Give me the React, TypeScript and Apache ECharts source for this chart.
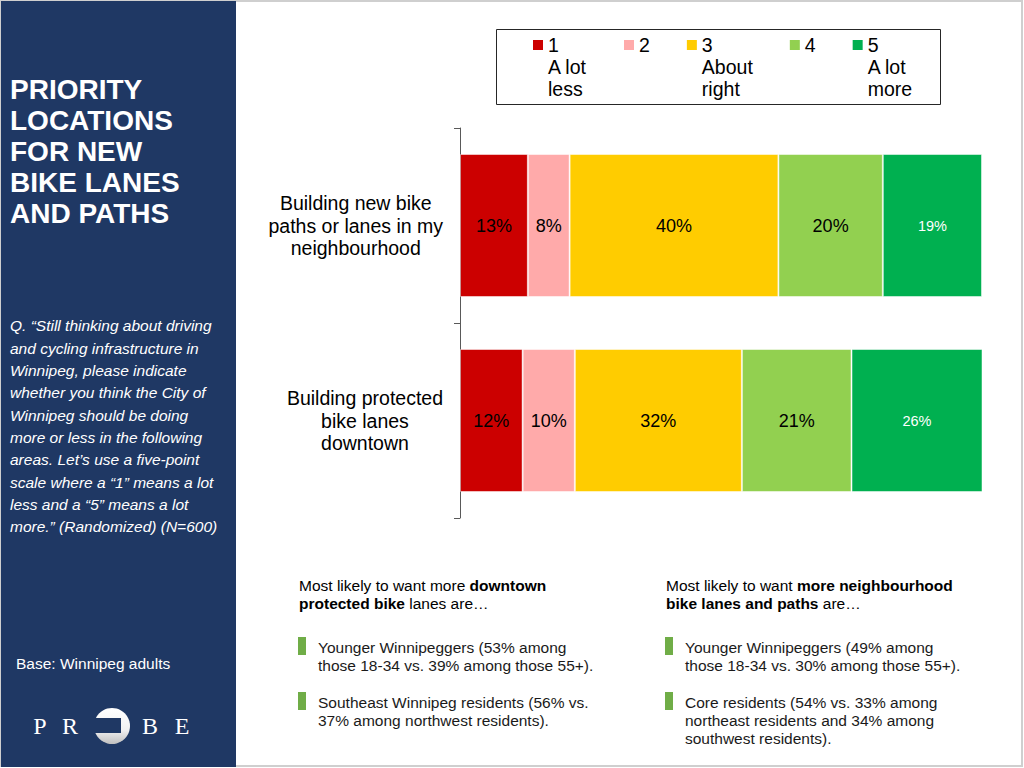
import React, { useEffect, useRef } from 'react';
import * as echarts from 'echarts';

const FONT = 'Liberation Sans, Arial, sans-serif';
const SERIF = 'Liberation Serif, Times New Roman, serif';
const NAVY = '#1F3864';

const categories = [
  'Building new bike\npaths or lanes in my\nneighbourhood',
  'Building protected\nbike lanes\ndowntown',
];
const seriesNames = ['1', '2', '3', '4', '5'];
const legendDescriptions = ['A lot\nless', '', 'About\nright', '', 'A lot\nmore'];
const seriesColors = ['#CC0000', '#FFAAAA', '#FFCC00', '#92D050', '#00B050'];

const scoreOne = [13, 12];
const scoreTwo = [8, 10];
const scoreThree = [40, 32];
const scoreFour = [20, 21];
const scoreFive = [19, 26];
const seriesValues = [scoreOne, scoreTwo, scoreThree, scoreFour, scoreFive];

const titleText = 'PRIORITY\nLOCATIONS\nFOR NEW\nBIKE LANES\nAND PATHS';
const questionText =
  'Q. \u201CStill thinking about driving\nand cycling infrastructure in\nWinnipeg, please indicate\nwhether you think the City of\nWinnipeg should be doing\nmore or less in the following\nareas. Let\u2019s use a five-point\nscale where a \u201C1\u201D means a lot\nless and a \u201C5\u201D means a lot\nmore.\u201D (Randomized) (N=600)';
const baseText = 'Base: Winnipeg adults';

const leftHeader = '{n|Most likely to want more }{b|downtown}\n{b|protected bike}{n| lanes are\u2026}';
const leftBullets = [
  'Younger Winnipeggers (53% among\nthose 18-34 vs. 39% among those 55+).',
  'Southeast Winnipeg residents (56% vs.\n37% among northwest residents).',
];
const rightHeader = '{n|Most likely to want }{b|more neighbourhood}\n{b|bike lanes and paths}{n| are\u2026}';
const rightBullets = [
  'Younger Winnipeggers (49% among\nthose 18-34 vs. 30% among those 55+).',
  'Core residents (54% vs. 33% among\nnortheast residents and 34% among\nsouthwest residents).',
];

function buildOption() {
  const txtRich = {
    n: { fontSize: 15.5, lineHeight: 18, fontFamily: FONT, color: '#1a1a1a' },
    b: { fontSize: 15.5, lineHeight: 18, fontFamily: FONT, color: '#1a1a1a', fontWeight: 'bold' },
  };
  const bullet = (x: number, y: number, tx: number, text: string) => [
    { type: 'rect', shape: { x, y, width: 8, height: 18 }, style: { fill: '#70AD47' } },
    {
      type: 'text',
      x: tx,
      y: y + 1,
      style: { text, fontSize: 15.5, lineHeight: 18, fontFamily: FONT, fill: '#1a1a1a', verticalAlign: 'top' },
    },
  ];
  const graphic: any[] = [
    { type: 'rect', shape: { x: 1, y: 1, width: 1021, height: 765 }, style: { fill: 'none', stroke: '#cfcfcf', lineWidth: 2 } },
    { type: 'rect', shape: { x: 1, y: 1, width: 235, height: 766 }, style: { fill: NAVY } },
    {
      type: 'text', x: 10, y: 74.5,
      style: { text: titleText, fontSize: 28, fontWeight: 'bold', lineHeight: 30.8, fontFamily: FONT, fill: '#fff', verticalAlign: 'top' },
    },
    {
      type: 'text', x: 10, y: 314.8,
      style: { text: questionText, fontSize: 15.5, fontStyle: 'italic', lineHeight: 22.33, fontFamily: FONT, fill: '#fff', verticalAlign: 'top' },
    },
    {
      type: 'text', x: 16, y: 663,
      style: { text: baseText, fontSize: 15.5, fontFamily: FONT, fill: '#fff', verticalAlign: 'middle' },
    },
    // PROBE logo
    ...[['P', 40], ['R', 70], ['B', 150], ['E', 182]].map(([ch, x]) => ({
      type: 'text', x: x as number, y: 726,
      style: { text: ch as string, fontSize: 24, fontFamily: SERIF, fill: '#fff', align: 'center', verticalAlign: 'middle' },
    })),
    {
      type: 'circle', shape: { cx: 112, cy: 726, r: 18 },
      style: {
        fill: new echarts.graphic.LinearGradient(0, 0, 0, 1, [
          { offset: 0, color: '#ffffff' },
          { offset: 0.6, color: '#f2f2f2' },
          { offset: 1, color: '#bfbfbf' },
        ]),
      },
    },
    { type: 'rect', shape: { x: 92, y: 718, width: 29, height: 15 }, style: { fill: NAVY } },
    // legend frame
    { type: 'rect', shape: { x: 496.5, y: 29.5, width: 444, height: 75 }, style: { fill: 'none', stroke: '#262626', lineWidth: 1 } },
    // bottom notes
    { type: 'text', x: 299, y: 576, style: { text: leftHeader, rich: txtRich, verticalAlign: 'top' } },
    ...bullet(298, 637, 318, leftBullets[0]),
    ...bullet(298, 692, 318, leftBullets[1]),
    { type: 'text', x: 666, y: 576, style: { text: rightHeader, rich: txtRich, verticalAlign: 'top' } },
    ...bullet(665, 637, 685, rightBullets[0]),
    ...bullet(665, 692, 685, rightBullets[1]),
  ];

  return {
    animation: false,
    backgroundColor: '#ffffff',
    textStyle: { fontFamily: FONT },
    grid: { left: 460, right: 42, top: 128, bottom: 250, containLabel: false, outerBoundsMode: 'none' },
    legend: {
      left: 533,
      top: 34,
      padding: 0,
      itemGap: 37,
      itemWidth: 10,
      itemHeight: 54,
      // square at the top of a tall icon box so it sits beside the first text line
      icon: 'path://M0,0h10v10h-10zM0,54',
      itemStyle: { borderWidth: 0 },
      selectedMode: false,
      data: seriesNames,
      formatter: (name: string) => {
        const d = legendDescriptions[seriesNames.indexOf(name)];
        return name + '\n' + (d || ' \n ');
      },
      textStyle: { fontSize: 19.5, lineHeight: 22, color: '#000', fontFamily: FONT },
    },
    xAxis: { type: 'value', min: 0, max: 100, show: false },
    yAxis: {
      type: 'category',
      data: categories,
      inverse: true,
      axisLine: { show: true, lineStyle: { color: '#595959', width: 1 } },
      axisTick: { show: true, length: 6, lineStyle: { color: '#595959', width: 1 } },
      splitLine: { show: false },
      axisLabel: {
        margin: 17,
        formatter: (v: string) => v.split('\n').map((l) => `{c|${l}}`).join('\n'),
        rich: { c: { align: 'center', fontSize: 19.5, lineHeight: 22.5, color: '#000', fontFamily: FONT } },
      },
    },
    series: seriesNames.map((name, i) => ({
      name,
      type: 'bar',
      stack: 'total',
      barWidth: 143,
      data: seriesValues[i],
      itemStyle: { color: seriesColors[i], borderColor: 'rgba(255,255,255,0.5)', borderWidth: 1 },
      emphasis: { disabled: true },
      label: {
        show: true,
        position: 'inside',
        formatter: '{c}%',
        color: i === 4 ? '#ffffff' : '#000000',
        fontSize: i === 4 ? 14.5 : 18,
        fontFamily: FONT,
      },
    })),
    graphic,
  };
}

export default function App() {
  const ref = useRef<HTMLDivElement>(null);
  useEffect(() => {
    if (!ref.current) return;
    const chart = echarts.init(ref.current, null, { renderer: 'svg' });
    chart.setOption(buildOption() as any);
    return () => chart.dispose();
  }, []);
  return (
    <div
      ref={ref}
      style={{ position: 'fixed', left: 0, top: 0, width: 1024, height: 768, background: '#fff' }}
    />
  );
}
